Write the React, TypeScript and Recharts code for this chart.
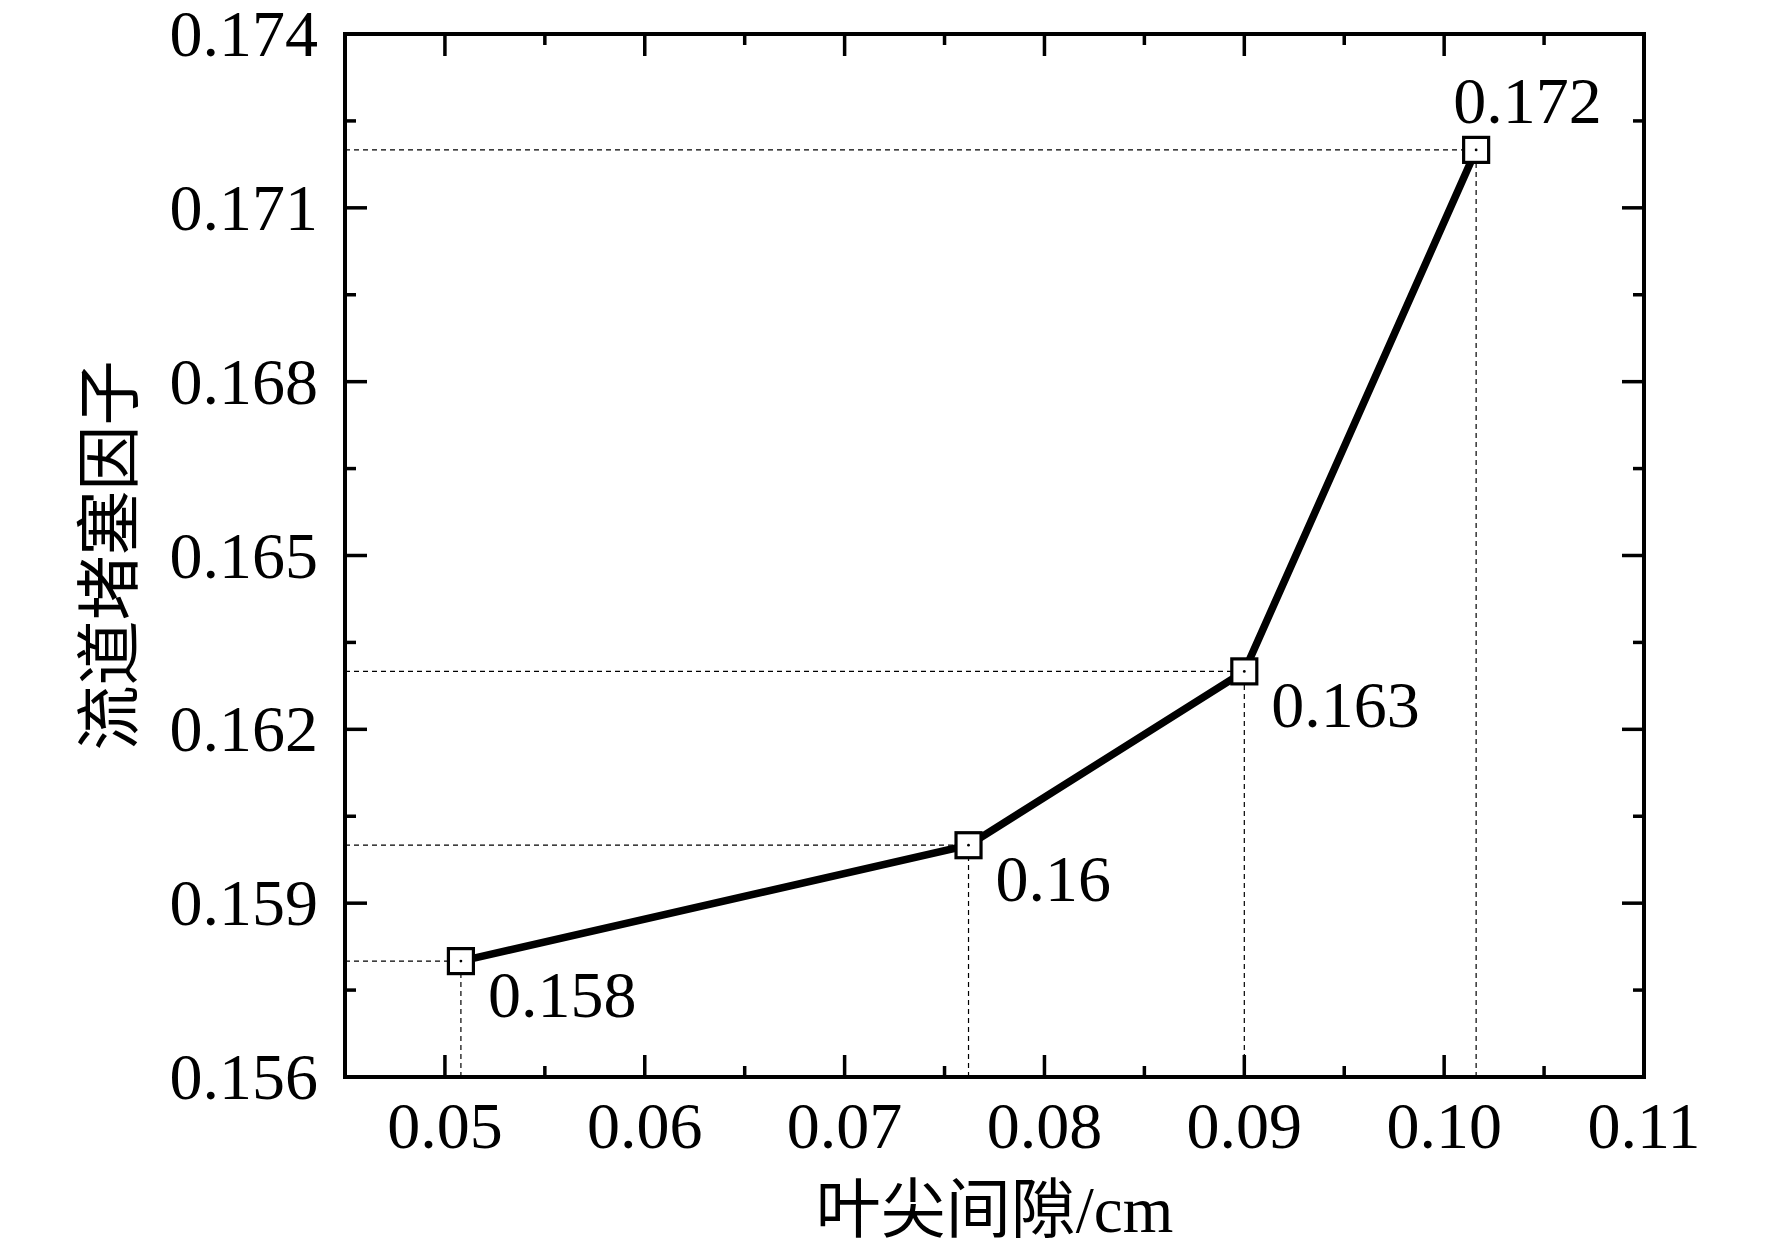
import React from 'react';
import { LineChart, Line, XAxis, YAxis, ReferenceLine, LabelList } from 'recharts';

// tip clearance (cm) vs. passage blockage factor
const gap = [0.0508, 0.0762, 0.09, 0.1016];
const blockage = [0.158, 0.16, 0.163, 0.172];

const xMajor = [0.05, 0.06, 0.07, 0.08, 0.09, 0.1, 0.11];
const xMinor = [0.055, 0.065, 0.075, 0.085, 0.095, 0.105];
const yMajor = [0.156, 0.159, 0.162, 0.165, 0.168, 0.171, 0.174];
const yMinor = [0.1575, 0.1605, 0.1635, 0.1665, 0.1695, 0.1725];

const xTitle = '叶尖间隙/cm';
const yTitle = '流道堵塞因子';

const xDomain: [number, number] = [0.045, 0.11];
const yDomain: [number, number] = [0.156, 0.174];

const data = gap.map((x, i) => ({ x, y: blockage[i] }));
const xTicks = [...xMajor, ...xMinor].sort((a, b) => a - b);
const yTicks = [...yMajor, ...yMinor].sort((a, b) => a - b);

const SERIF = "'Liberation Serif', 'Times New Roman', serif";
const TITLE_FONT = "'Liberation Serif', 'Noto Sans CJK SC', serif";
const FS = 66;

type Side = 'bottom' | 'top' | 'left' | 'right';

const makeTick = (side: Side, majors: number[], fmt: ((v: number) => string) | null) => (props: any) => {
  const { x, y, payload } = props;
  const v = payload.value as number;
  const major = majors.some((m) => Math.abs(m - v) < 1e-9);
  const len = major ? 22 : 11;
  let x2 = x;
  let y2 = y;
  if (side === 'bottom') y2 = y - len;
  if (side === 'top') y2 = y + len;
  if (side === 'left') x2 = x + len;
  if (side === 'right') x2 = x - len;
  let label = null;
  if (fmt && major) {
    if (side === 'bottom') {
      label = (
        <text x={x} y={y + 71} textAnchor="middle" fontFamily={SERIF} fontSize={FS} fill="#000">
          {fmt(v)}
        </text>
      );
    } else if (side === 'left') {
      label = (
        <text x={x - 27} y={y + 22} textAnchor="end" fontFamily={SERIF} fontSize={FS} fill="#000">
          {fmt(v)}
        </text>
      );
    }
  }
  return (
    <g>
      <line x1={x} y1={y} x2={x2} y2={y2} stroke="#000" strokeWidth={3.5} />
      {label}
    </g>
  );
};

const SquareDot = (props: any) => {
  const { cx, cy } = props;
  if (cx == null || cy == null) return null;
  return (
    <g key={`dot-${props.index}`}>
      <rect x={cx - 12.5} y={cy - 12.5} width={25} height={25} fill="#fff" stroke="#000" strokeWidth={3.2} />
      <circle cx={cx} cy={cy} r={1.4} fill="#000" />
    </g>
  );
};

const ValueLabel = (props: any) => {
  const { x, y, value, index } = props;
  const last = index === blockage.length - 1;
  return (
    <text
      x={last ? x - 23 : x + 27}
      y={last ? y - 27 : y + 56}
      fontFamily={SERIF}
      fontSize={FS}
      fill="#000"
    >
      {String(value)}
    </text>
  );
};

const XTitle = (props: any) => {
  const { x, y, width } = props.viewBox;
  return (
    <text x={x + width / 2} y={y + 155} textAnchor="middle" fontFamily={TITLE_FONT} fontSize={65} fill="#000">
      {xTitle}
    </text>
  );
};

const YTitle = (props: any) => {
  const { x, y, height, width } = props.viewBox;
  const tx = x + width - 213;
  const ty = y + height / 2;
  return (
    <text
      x={tx}
      y={ty}
      transform={`rotate(-90, ${tx}, ${ty})`}
      textAnchor="middle"
      fontFamily={TITLE_FONT}
      fontSize={65}
      fill="#000"
    >
      {yTitle}
    </text>
  );
};

const axisLine = { stroke: '#000', strokeWidth: 4, strokeLinecap: 'square' as const };

export default function App() {
  return (
    <div style={{ position: 'absolute', left: 0, top: 0, background: '#fff' }}>
      <LineChart width={1772} height={1256} data={data} margin={{ top: 33, right: 127, bottom: 178, left: 344 }}>
        <XAxis
          dataKey="x"
          type="number"
          domain={xDomain}
          allowDataOverflow
          ticks={xTicks}
          interval={0}
          height={1}
          tickSize={0}
          tickMargin={0}
          tickLine={false}
          axisLine={axisLine}
          tick={makeTick('bottom', xMajor, (v) => v.toFixed(2))}
          label={XTitle}
        />
        <XAxis
          xAxisId="top"
          orientation="top"
          dataKey="x"
          type="number"
          domain={xDomain}
          allowDataOverflow
          ticks={xTicks}
          interval={0}
          height={1}
          tickSize={0}
          tickMargin={0}
          tickLine={false}
          axisLine={axisLine}
          tick={makeTick('top', xMajor, null)}
        />
        <YAxis
          type="number"
          domain={yDomain}
          allowDataOverflow
          ticks={yTicks}
          interval={0}
          width={1}
          tickSize={0}
          tickMargin={0}
          tickLine={false}
          axisLine={axisLine}
          tick={makeTick('left', yMajor, (v) => v.toFixed(3))}
          label={YTitle}
        />
        <YAxis
          yAxisId="right"
          orientation="right"
          type="number"
          domain={yDomain}
          allowDataOverflow
          ticks={yTicks}
          interval={0}
          width={1}
          tickSize={0}
          tickMargin={0}
          tickLine={false}
          axisLine={axisLine}
          tick={makeTick('right', yMajor, null)}
        />
        {data.map((d) => (
          <ReferenceLine
            key={`h-${d.x}`}
            segment={[{ x: xDomain[0], y: d.y }, { x: d.x, y: d.y }]}
            stroke="#000"
            strokeWidth={1.2}
            strokeDasharray="5 4"
          />
        ))}
        {data.map((d) => (
          <ReferenceLine
            key={`v-${d.x}`}
            segment={[{ x: d.x, y: yDomain[0] }, { x: d.x, y: d.y }]}
            stroke="#000"
            strokeWidth={1.2}
            strokeDasharray="5 4"
          />
        ))}
        <Line
          type="linear"
          dataKey="y"
          stroke="#000"
          strokeWidth={7.5}
          dot={SquareDot}
          activeDot={false}
          isAnimationActive={false}
        >
          <LabelList dataKey="y" content={ValueLabel} />
        </Line>
      </LineChart>
    </div>
  );
}
